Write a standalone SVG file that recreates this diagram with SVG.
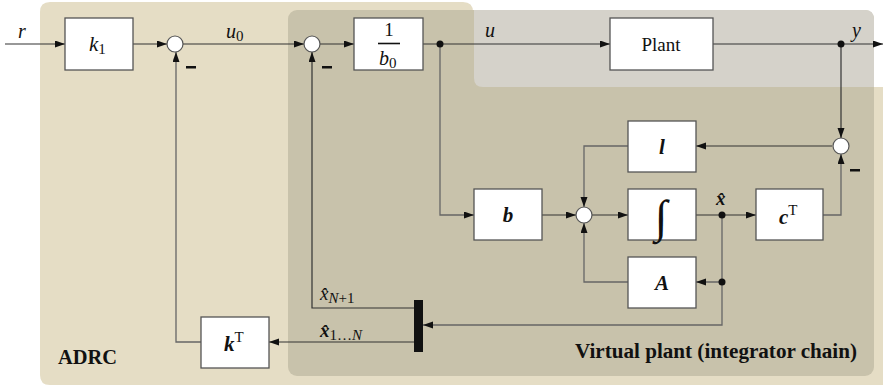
<svg xmlns="http://www.w3.org/2000/svg" width="883" height="385" viewBox="0 0 883 385">
<style>
.blk{fill:#fff;stroke:#555;stroke-width:1.3}
.sum{fill:#fff;stroke:#555;stroke-width:1.2}
.ln{fill:none;stroke:#333;stroke-width:1.2}
.lg{fill:none;stroke:#666;stroke-width:1.3}
text{font-family:'Liberation Serif','Times New Roman','DejaVu Serif',serif}
.t{fill:#111}
.m{font-style:italic;fill:#111}
.v{font-style:italic;font-weight:bold;fill:#111}
.lbl{font-weight:bold;fill:#111;font-size:20px}
</style>
<defs>
<marker id="ar" markerWidth="11" markerHeight="8" refX="10" refY="3.5" orient="auto" markerUnits="userSpaceOnUse">
<path d="M0,0 L10,3.5 L0,7 z" fill="#111"/>
</marker>
</defs>
<g id="regions">
<path d="M50,2 H463 Q473,2 473,12 V87 H883 V385 H50 Q40,385 40,375 V12 Q40,2 50,2 Z" fill="#e5ddc5"/>
<rect x="288" y="10" width="586" height="366" rx="9" fill="#c8c2ab"/>
<path d="M474,10 H865 Q874,10 874,19 V87 H483 Q474,87 474,78 Z" fill="#d5d2ca"/>
</g>
<g id="connectors">
<path class="ln" d="M5,44 H65" marker-end="url(#ar)"/>
<path class="ln" d="M133,44 H167" marker-end="url(#ar)"/>
<path class="ln" d="M183,44 H304" marker-end="url(#ar)"/>
<path class="ln" d="M320,44 H354" marker-end="url(#ar)"/>
<path class="ln" d="M423,44 H610" marker-end="url(#ar)"/>
<path class="ln" d="M713,44 H883" marker-end="url(#ar)"/>
<path class="ln" d="M841,44 V138" marker-end="url(#ar)"/>
<path class="ln" d="M832,146 H696" marker-end="url(#ar)"/>
<path class="lg" d="M628,146 H584 V207" marker-end="url(#ar)"/>
<path class="lg" d="M440,44 V215 H474" marker-end="url(#ar)"/>
<path class="ln" d="M542,215 H576" marker-end="url(#ar)"/>
<path class="ln" d="M592,215 H628" marker-end="url(#ar)"/>
<path class="ln" d="M696,215 H756" marker-end="url(#ar)"/>
<path class="lg" d="M823,215 H841 V154" marker-end="url(#ar)"/>
<path class="lg" d="M722,215 V282 H696" marker-end="url(#ar)"/>
<path class="lg" d="M628,282 H584 V223" marker-end="url(#ar)"/>
<path class="lg" d="M722,282 V325 H423" marker-end="url(#ar)"/>
<path class="ln" d="M414,308 H312 V52" marker-end="url(#ar)"/>
<path class="ln" d="M414,342 H269" marker-end="url(#ar)"/>
<path class="lg" d="M201,342 H176 V52" marker-end="url(#ar)"/>
<circle cx="440" cy="44" r="3.5" fill="#111"/>
<circle cx="841" cy="44" r="3.5" fill="#111"/>
<circle cx="722" cy="215" r="3.5" fill="#111"/>
<circle cx="722" cy="282" r="3.5" fill="#111"/>
</g>
<g id="k1"><rect class="blk" x="65" y="18" width="68" height="52"/><text class="m" x="89" y="51" font-size="21">k<tspan font-style="normal" font-size="15" dy="3">1</tspan></text></g>
<g id="sum1"><circle class="sum" cx="175" cy="44" r="8"/><rect x="186" y="66" width="10" height="2.5" fill="#111"/></g>
<g id="sum2"><circle class="sum" cx="312" cy="44" r="8"/><rect x="322" y="66" width="10" height="2.5" fill="#111"/></g>
<g id="inv_b0"><rect class="blk" x="354" y="18" width="69" height="52"/><text class="t" x="389" y="36" font-size="19" text-anchor="middle">1</text><line x1="378" y1="43.5" x2="400" y2="43.5" stroke="#111" stroke-width="1.6"/><text class="m" x="379" y="65" font-size="20">b<tspan font-style="normal" font-size="15" dy="3">0</tspan></text></g>
<g id="plant"><rect class="blk" x="610" y="18" width="103" height="52"/><text class="t" x="661" y="51" font-size="19" text-anchor="middle">Plant</text></g>
<g id="sum3"><circle class="sum" cx="841" cy="146" r="8"/><rect x="850" y="169" width="10" height="2.5" fill="#111"/></g>
<g id="l"><rect class="blk" x="628" y="121" width="68" height="51"/><text class="v" x="662" y="154" font-size="21" text-anchor="middle">l</text></g>
<g id="b"><rect class="blk" x="474" y="189" width="68" height="51"/><text class="v" x="508" y="222" font-size="21" text-anchor="middle">b</text></g>
<g id="sum4"><circle class="sum" cx="584" cy="215" r="8"/></g>
<g id="integrator"><rect class="blk" x="628" y="189" width="68" height="51"/><text class="m" x="661" y="232" font-size="46" text-anchor="middle">∫</text></g>
<g id="cT"><rect class="blk" x="756" y="189" width="67" height="51"/><text class="v" x="779" y="224" font-size="21">c<tspan class="t" font-weight="normal" font-style="normal" font-size="15" dy="-9">T</tspan></text></g>
<g id="A"><rect class="blk" x="628" y="257" width="68" height="51"/><text class="v" x="662" y="290" font-size="21" text-anchor="middle">A</text></g>
<g id="mux"><rect x="414" y="300" width="9" height="52" fill="#111"/></g>
<g id="kT"><rect class="blk" x="201" y="317" width="68" height="51"/><text class="v" x="224" y="351" font-size="21">k<tspan class="t" font-weight="normal" font-style="normal" font-size="15" dy="-9">T</tspan></text></g>
<g id="labels">
<text class="m" x="18" y="38" font-size="20">r</text>
<text class="m" x="226" y="38" font-size="20">u<tspan font-style="normal" font-size="15" dy="3">0</tspan></text>
<text class="m" x="485" y="37" font-size="20">u</text>
<text class="m" x="852" y="37" font-size="20">y</text>
<text class="v" x="716" y="205" font-size="19">x̂</text>
<text class="m" x="320" y="300" font-size="19">x̂<tspan font-size="15" dy="3">N</tspan><tspan font-style="normal" font-size="15">+1</tspan></text>
<text class="v" x="320" y="337" font-size="19">x̂<tspan class="t" font-weight="normal" font-style="normal" font-size="15" dy="3">1…</tspan><tspan class="m" font-weight="normal" font-size="15">N</tspan></text>
<text class="lbl" x="58" y="364" textLength="59" lengthAdjust="spacingAndGlyphs">ADRC</text>
<text class="lbl" x="575" y="358" textLength="282" lengthAdjust="spacingAndGlyphs">Virtual plant (integrator chain)</text>
</g>
</svg>
